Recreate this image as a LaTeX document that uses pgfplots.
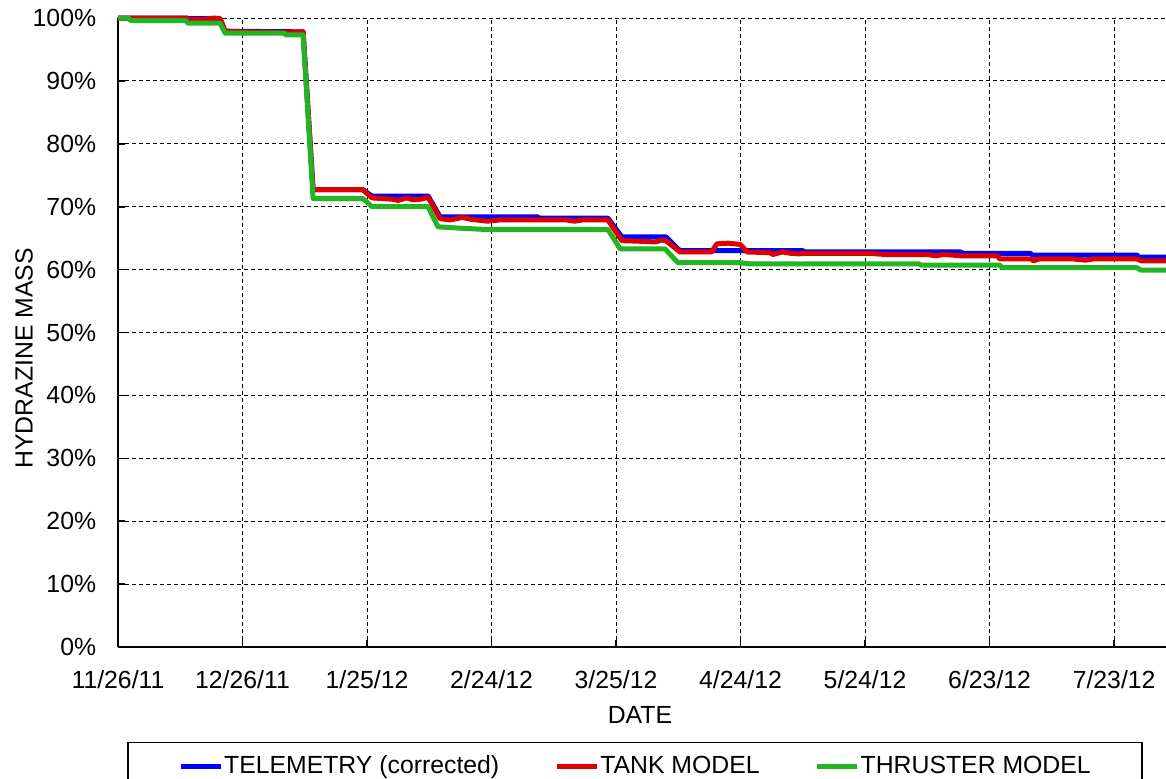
\documentclass[border=0pt]{standalone}
\usepackage{fontspec}
\setmainfont{Liberation Sans}
\usepackage{pgfplots}
\pgfplotsset{compat=1.18}
\definecolor{cblue}{RGB}{0,0,255}
\definecolor{cred}{RGB}{221,0,0}
\definecolor{cgreen}{RGB}{34,180,34}
\pgfplotstableread{
d v
0 100
16.5 100
17 99.9
24.6 99.9
25.8 97.9
44.6 97.8
47 72.7
59 72.7
61.2 71.7
74.7 71.7
77.6 68.4
101 68.4
101.5 68.2
118 68.2
121.4 65.2
132 65.2
135.4 63.0
165 63.0
165.5 62.8
203 62.8
203.6 62.6
219.8 62.6
220.3 62.3
245.5 62.3
246 62.0
252.5 62.0
}\telemetry
\pgfplotstableread{
d v
0 100
16.5 100
17 99.8
21 99.8
23 100
24.6 99.9
25.8 97.9
30 97.8
40 97.7
44.6 97.8
47 72.7
59 72.7
61.2 71.4
63.5 71.3
66 71.2
67.5 71.0
69.5 71.4
71 71.1
73 71.2
74.7 71.5
77.6 68.1
80 67.9
83 68.3
85 68.0
89 67.7
92 67.9
100 67.9
108 67.9
110 67.7
112 67.9
118 67.9
121.4 64.6
126 64.5
129.5 64.4
131 64.7
132 64.6
135.4 62.8
143 62.8
144.3 64.1
147 64.2
149.9 64.0
151.6 62.8
157 62.7
157.8 62.4
160 62.8
162 62.6
164 62.5
166 62.6
180.5 62.6
185 62.4
195 62.4
197 62.2
199 62.4
203 62.2
211.8 62.2
212.5 61.7
220 61.7
220.5 61.4
222 61.7
230 61.7
233 61.5
235 61.7
245.5 61.7
246.5 61.4
252.5 61.4
}\tank
\pgfplotstableread{
d v
0 100
2.5 100
3 99.6
16.4 99.6
16.8 99.2
24.6 99.2
25.8 97.6
40 97.6
40.5 97.3
44.6 97.3
47 71.3
59 71.3
61.2 70.0
74.7 70.0
77.1 66.8
82 66.6
88 66.4
118 66.4
121 63.3
131.8 63.3
134.9 61.1
149.9 61.1
152.3 60.9
193 60.9
193.5 60.7
212.5 60.7
213 60.3
245.5 60.3
246.5 59.9
252.5 59.9
}\thruster
\begin{document}
\begin{tikzpicture}[font=\fontsize{12.4}{15}\selectfont]
\begin{axis}[
  scale only axis, width=524pt, height=314.5pt,
  xmin=0, xmax=252.5, ymin=0, ymax=100,
  clip=false,
  axis x line*=bottom, axis y line*=left,
  axis line style={line width=0.8pt, black},
  xtick={0,30,...,240},
  xticklabels={11/26/11,12/26/11,1/25/12,2/24/12,3/25/12,4/24/12,5/24/12,6/23/12,7/23/12},
  ytick={0,10,...,100},
  yticklabels={0\%,10\%,20\%,30\%,40\%,50\%,60\%,70\%,80\%,90\%,100\%},
  /pgf/number format/assume math mode=true,
  grid=major,
  major grid style={black, line width=0.5pt, dash pattern=on 2pt off 1.5pt},
  major tick length=3.5pt,
  tick style={black, line width=0.8pt},
  tick align=inside,
  xticklabel style={yshift=-8.4pt},
  yticklabel style={xshift=-7.4pt},
  xlabel={DATE}, ylabel={HYDRAZINE MASS},
  xlabel style={at={(axis description cs:0.498,-0.1081)}, anchor=center},
  ylabel style={at={(axis description cs:-0.0897,0.459)}, anchor=center},
  legend columns=3,
  legend style={at={(axis description cs:0.00888,-0.1506)}, anchor=north west,
    draw=black, line width=0.8pt, inner xsep=25pt, inner ysep=6pt,
    cells={anchor=west}, nodes={inner sep=0.5pt},
    /tikz/every even column/.append style={column sep=27pt}},
  legend image code/.code={\draw[#1] (0pt,0pt) -- (20pt,0pt);},
]
\addplot[cblue, line width=2.5pt, line join=round, no marks] table[x=d,y=v] {\telemetry};
\addlegendentry{TELEMETRY (corrected)}
\addplot[cred, line width=2.5pt, line join=round, no marks] table[x=d,y=v] {\tank};
\addlegendentry{TANK MODEL}
\addplot[cgreen, line width=2.5pt, line join=round, no marks] table[x=d,y=v] {\thruster};
\addlegendentry{THRUSTER MODEL}
\end{axis}
\pgfresetboundingbox
\useasboundingbox (-59pt,-65.5pt) rectangle (524pt,323.5pt);
\end{tikzpicture}
\end{document}
